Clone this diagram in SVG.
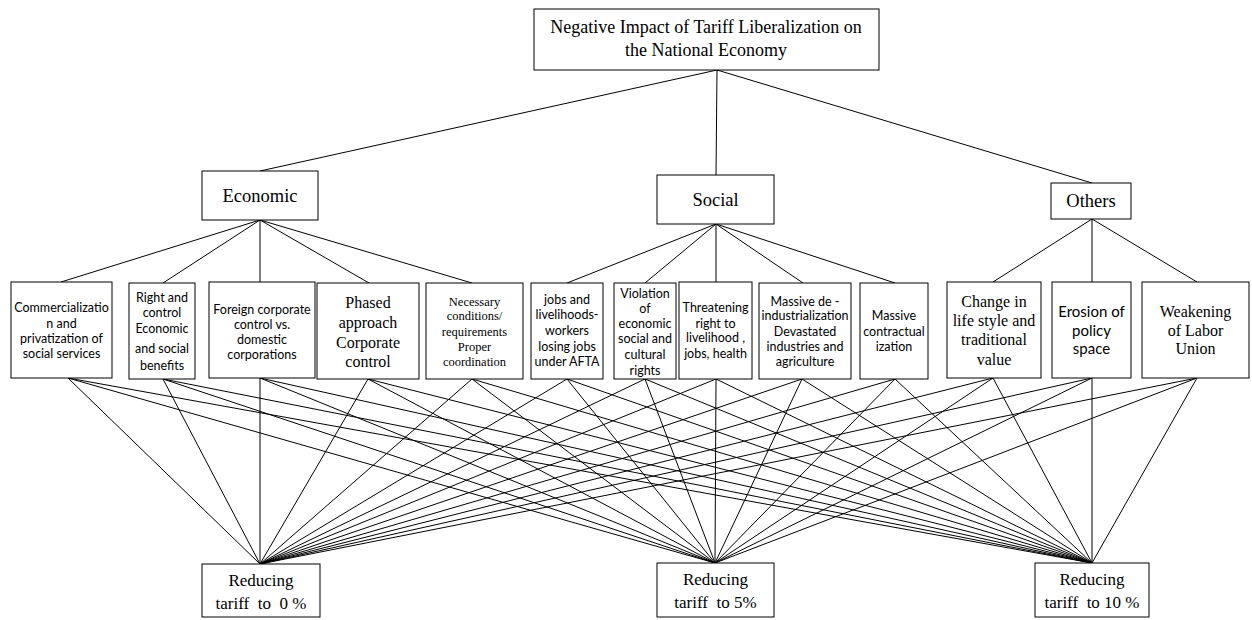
<svg xmlns="http://www.w3.org/2000/svg" width="1252" height="620" viewBox="0 0 1252 620">
<style>
.box{fill:#fff;stroke:#000;stroke-width:1}
.ln{stroke:#000;stroke-width:1;fill:none}
.serif{font-family:"Liberation Serif","Times New Roman",serif;fill:#000;text-anchor:middle}
.sans{font-family:Lato,"Liberation Sans",sans-serif;fill:#000;text-anchor:middle}
</style>
<rect width="1252" height="620" fill="#fff"/>
<g id="connectors" class="ln">
<line x1="717" y1="70" x2="260" y2="171"/>
<line x1="717" y1="70" x2="716" y2="175"/>
<line x1="717" y1="70" x2="1092" y2="183"/>
<line x1="260" y1="220" x2="61" y2="282"/>
<line x1="260" y1="220" x2="163" y2="283"/>
<line x1="260" y1="220" x2="260" y2="282"/>
<line x1="260" y1="220" x2="369" y2="283"/>
<line x1="260" y1="220" x2="472" y2="283"/>
<line x1="716" y1="224" x2="567" y2="283"/>
<line x1="716" y1="224" x2="645" y2="283"/>
<line x1="716" y1="224" x2="716" y2="282"/>
<line x1="716" y1="224" x2="803" y2="283"/>
<line x1="716" y1="224" x2="895" y2="283"/>
<line x1="1092" y1="219" x2="993" y2="282"/>
<line x1="1092" y1="219" x2="1092" y2="282"/>
<line x1="1092" y1="219" x2="1197" y2="282"/>
<path d="M68 378L260 564M68 378L715 563M68 378L1092 563
M163 379L260 564M163 379L715 563M163 379L1092 563
M260 378L260 564M260 378L715 563M260 378L1092 563
M368 379L260 564M368 379L715 563M368 379L1092 563
M472 379L260 564M472 379L715 563M472 379L1092 563
M567 379L260 564M567 379L715 563M567 379L1092 563
M645 379L260 564M645 379L715 563M645 379L1092 563
M716 379L260 564M716 379L715 563M716 379L1092 563
M802 379L260 564M802 379L715 563M802 379L1092 563
M895 379L260 564M895 379L715 563M895 379L1092 563
M993 378L260 564M993 378L715 563M993 378L1092 563
M1092 378L260 564M1092 378L715 563M1092 378L1092 563
M1197 378L260 564M1197 378L715 563M1197 378L1092 563"/>
</g>
<g id="root"><rect class="box" x="534" y="9" width="345" height="61"/>
<text class="serif" font-size="18" x="706" y="33">Negative Impact of Tariff Liberalization on</text>
<text class="serif" font-size="18" x="706" y="56">the National Economy</text></g>
<g id="economic"><rect class="box" x="202" y="171" width="116" height="49"/><text class="serif" font-size="18.5" x="260" y="202">Economic</text></g>
<g id="social"><rect class="box" x="657" y="175" width="117" height="49"/><text class="serif" font-size="18.5" x="715.5" y="206">Social</text></g>
<g id="others"><rect class="box" x="1051" y="183" width="80" height="36"/><text class="serif" font-size="18.5" x="1091" y="207">Others</text></g>
<g id="n1"><rect class="box" x="11" y="282" width="101" height="96"/>
<text class="sans" font-size="12.5"><tspan x="61.5" y="312">Commercializatio</tspan><tspan x="61.5" y="328">n and</tspan><tspan x="61.5" y="343">privatization of</tspan><tspan x="61.5" y="358">social services</tspan></text></g>
<g id="n2"><rect class="box" x="129" y="283" width="66" height="96"/>
<text class="sans" font-size="12.5"><tspan x="162" y="302">Right and</tspan><tspan x="162" y="317">control</tspan><tspan x="162" y="333">Economic</tspan><tspan x="162" y="353">and social</tspan><tspan x="162" y="370">benefits</tspan></text></g>
<g id="n3"><rect class="box" x="209" y="282" width="106" height="96"/>
<text class="sans" font-size="12.5"><tspan x="262" y="314">Foreign corporate</tspan><tspan x="262" y="329">control vs.</tspan><tspan x="262" y="344">domestic</tspan><tspan x="262" y="359">corporations</tspan></text></g>
<g id="n4"><rect class="box" x="317" y="283" width="102" height="96"/>
<text class="serif" font-size="16"><tspan x="368" y="308">Phased</tspan><tspan x="368" y="328">approach</tspan><tspan x="368" y="348">Corporate</tspan><tspan x="368" y="367">control</tspan></text></g>
<g id="n5"><rect class="box" x="426" y="283" width="97" height="96"/>
<text class="serif" font-size="12.5"><tspan x="474.5" y="306">Necessary</tspan><tspan x="474.5" y="320">conditions/</tspan><tspan x="474.5" y="336">requirements</tspan><tspan x="474.5" y="351">Proper</tspan><tspan x="474.5" y="366">coordination</tspan></text></g>
<g id="n6"><rect class="box" x="531" y="283" width="72" height="96"/>
<text class="sans" font-size="12.5"><tspan x="567" y="304">jobs and</tspan><tspan x="567" y="319">livelihoods-</tspan><tspan x="567" y="335">workers</tspan><tspan x="567" y="351">losing jobs</tspan><tspan x="567" y="366">under AFTA</tspan></text></g>
<g id="n7"><rect class="box" x="614" y="283" width="62" height="96"/>
<text class="sans" font-size="12.5"><tspan x="645" y="298">Violation</tspan><tspan x="645" y="313">of</tspan><tspan x="645" y="328">economic</tspan><tspan x="645" y="343">social and</tspan><tspan x="645" y="359">cultural</tspan><tspan x="645" y="375">rights</tspan></text></g>
<g id="n8"><rect class="box" x="679" y="282" width="73" height="97"/>
<text class="sans" font-size="12.5"><tspan x="715.5" y="312">Threatening</tspan><tspan x="715.5" y="328">right to</tspan><tspan x="715.5" y="342">livelihood ,</tspan><tspan x="715.5" y="358">jobs,  health</tspan></text></g>
<g id="n9"><rect class="box" x="759" y="283" width="92" height="96"/>
<text class="sans" font-size="12.5"><tspan x="805" y="306">Massive de -</tspan><tspan x="805" y="320">industrialization</tspan><tspan x="805" y="336">Devastated</tspan><tspan x="805" y="351">industries and</tspan><tspan x="805" y="366">agriculture</tspan></text></g>
<g id="n10"><rect class="box" x="860" y="283" width="68" height="96"/>
<text class="sans" font-size="12.5"><tspan x="894" y="320">Massive</tspan><tspan x="894" y="336">contractual</tspan><tspan x="894" y="351">ization</tspan></text></g>
<g id="n11"><rect class="box" x="947" y="282" width="94" height="96"/>
<text class="serif" font-size="16"><tspan x="994" y="307">Change in</tspan><tspan x="994" y="326">life style and</tspan><tspan x="994" y="345">traditional</tspan><tspan x="994" y="365">value</tspan></text></g>
<g id="n12"><rect class="box" x="1052" y="282" width="79" height="96"/>
<text class="sans" font-size="15"><tspan x="1091.5" y="317">Erosion of</tspan><tspan x="1091.5" y="336">policy</tspan><tspan x="1091.5" y="354">space</tspan></text></g>
<g id="n13"><rect class="box" x="1142" y="282" width="107" height="96"/>
<text class="serif" font-size="16"><tspan x="1195.5" y="317">Weakening</tspan><tspan x="1195.5" y="336">of Labor</tspan><tspan x="1195.5" y="354">Union</tspan></text></g>
<g id="b1"><rect class="box" x="202" y="564" width="118" height="53"/>
<text class="serif" font-size="17"><tspan x="261" y="586">Reducing</tspan><tspan x="261" y="609" xml:space="preserve">tariff  to  0 %</tspan></text></g>
<g id="b2"><rect class="box" x="657" y="563" width="117" height="54"/>
<text class="serif" font-size="17"><tspan x="715.5" y="585">Reducing</tspan><tspan x="715.5" y="608" xml:space="preserve">tariff  to 5%</tspan></text></g>
<g id="b3"><rect class="box" x="1035" y="563" width="114" height="54"/>
<text class="serif" font-size="17"><tspan x="1092" y="585">Reducing</tspan><tspan x="1092" y="608" xml:space="preserve">tariff  to 10 %</tspan></text></g>
</svg>
